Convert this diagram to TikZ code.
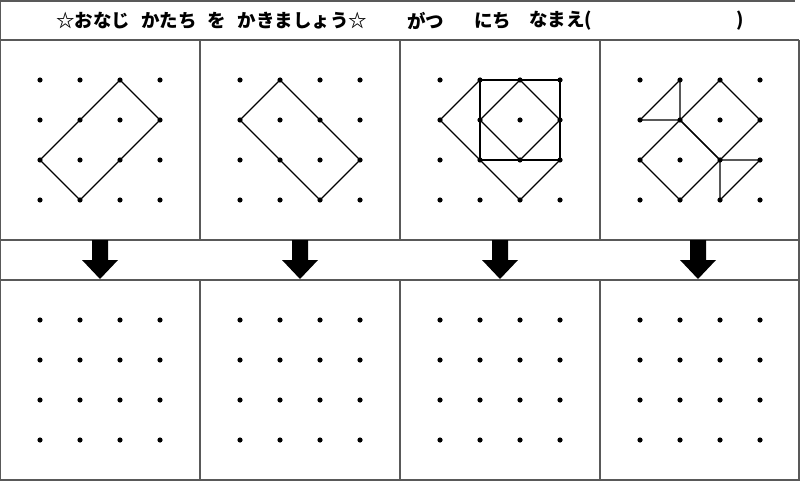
\documentclass[tikz,border=0pt]{standalone}
\usepackage{fontspec}
\newfontfamily\jpfont{Noto Sans CJK JP}
\usetikzlibrary{arrows,shapes}

\begin{document}
\begin{tikzpicture}[x=1pt,y=-1pt,
                    frame/.style={draw=black!65,line width=1.2pt},
                    figure line/.style={draw=black,line width=1.1pt,line join=round},
                    header/.style={anchor=west,inner sep=0pt,
                                   font=\jpfont\bfseries\fontsize{18.5}{20}\selectfont}]
  \useasboundingbox (0,0) rectangle (800,481);

  % header
  \node[header] (title) at (56,21)
       {☆おなじ\hspace{0.6em}かたち\hspace{0.6em}を\hspace{0.6em}かきましょう☆};
  \node[header] (month) at (407,21) {がつ};
  \node[header] (day)   at (474,21) {にち};
  \node[header] (name)  at (529,21) {なまえ(};
  \node[header] (close) at (736,21) {)};

  % table
  \draw[frame] (0,1) -- (795,1);
  \draw[frame] (0,0) -- (0,480) -- (799,480) -- (799,40);
  \foreach \y in {40,240,280}
    \draw[frame] (0,\y) -- (799,\y);
  \foreach \x in {200,400,600} {
    \draw[frame] (\x,40) -- (\x,240);
    \draw[frame] (\x,280) -- (\x,480);
  }

  % dot grids
  \foreach \p in {1,...,4}
    \foreach \i in {1,...,4}
      \foreach \j in {1,...,4} {
        \coordinate (t\p-\i\j) at (200*\p-200+40*\i,40+40*\j);
        \coordinate (b\p-\i\j) at (200*\p-200+40*\i,280+40*\j);
        \fill (t\p-\i\j) circle (2.6pt);
        \fill (b\p-\i\j) circle (2.6pt);
      }

  % model figures
  \draw[figure line] (t1-31) -- (t1-42) -- (t1-24) -- (t1-13) -- cycle;

  \draw[figure line] (t2-21) -- (t2-43) -- (t2-34) -- (t2-12) -- cycle;

  \draw[figure line] (t3-21) -- (t3-41) -- (t3-43) -- (t3-23) -- cycle;
  \draw[figure line] (t3-31) -- (t3-42) -- (t3-33) -- (t3-22) -- cycle;
  \draw[figure line] (t3-21) -- (t3-12) -- (t3-34) -- (t3-43);

  \draw[figure line] (t4-21) -- (t4-12) -- (t4-22) -- cycle;
  \draw[figure line] (t4-31) -- (t4-42) -- (t4-33) -- (t4-22) -- cycle;
  \draw[figure line] (t4-22) -- (t4-33) -- (t4-24) -- (t4-13) -- cycle;
  \draw[figure line] (t4-33) -- (t4-43) -- (t4-34) -- cycle;

  % arrows
  \foreach \x [count=\k] in {100,300,500,698} {
    \coordinate (arr\k) at (\x,240);
    \fill ([xshift=-8pt]arr\k) -- ([xshift=8pt]arr\k) -- ([xshift=8pt,yshift=-20pt]arr\k)
      -- ([xshift=18pt,yshift=-20pt]arr\k) -- ([yshift=-39pt]arr\k)
      -- ([xshift=-18pt,yshift=-20pt]arr\k) -- ([xshift=-8pt,yshift=-20pt]arr\k) -- cycle;
  }
\end{tikzpicture}
\end{document}
